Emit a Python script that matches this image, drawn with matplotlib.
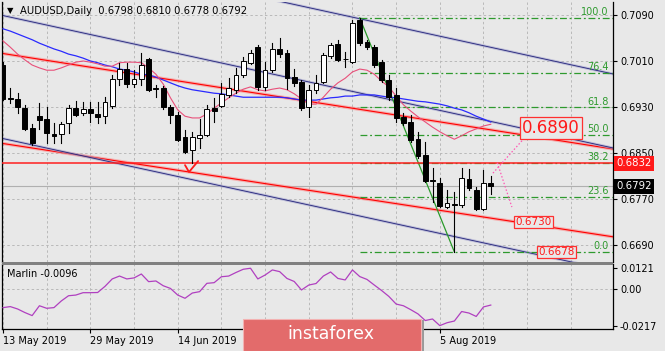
import matplotlib
matplotlib.use("Agg")
import matplotlib.pyplot as plt
import matplotlib.transforms as mtransforms
from matplotlib.patches import Rectangle
from matplotlib.ticker import FixedLocator, FixedFormatter

# ─────────────────────────────────────────────
#  Data
# ─────────────────────────────────────────────
TITLE = "AUDUSD,Daily  0.6798 0.6810 0.6778 0.6792"

# the 2 Jul / 18 Jul labels sit under the watermark in the original, so only these show
date_bars   = [0, 12, 24, 60]
date_labels = ["13 May 2019", "29 May 2019", "14 Jun 2019", "5 Aug 2019"]

opens = [0.7003, 0.6946, 0.6944, 0.6928, 0.6893, 0.6914, 0.6909, 0.6883, 0.6883, 0.6902,
         0.6928, 0.6920, 0.6927, 0.6918, 0.6914, 0.6932, 0.6979, 0.6996, 0.6970, 0.6979,
         0.7013, 0.6963, 0.6963, 0.6930, 0.6916, 0.6878, 0.6855, 0.6876, 0.6881, 0.6928,
         0.6932, 0.6951, 0.6960, 0.6986, 0.7007, 0.7034, 0.6965, 0.6994, 0.7031, 0.7024,
         0.6982, 0.6973, 0.6930, 0.6960, 0.6973, 0.7019, 0.7040, 0.7014, 0.7008, 0.7081,
         0.7043, 0.7034, 0.7008, 0.6977, 0.6951, 0.6913, 0.6904, 0.6874, 0.6847, 0.6803,
         0.6798, 0.6756, 0.6762, 0.6760, 0.6805, 0.6786, 0.6753, 0.6798]
highs = [0.7008, 0.6963, 0.6954, 0.6933, 0.6900, 0.6937, 0.6930, 0.6902, 0.6904, 0.6933,
         0.6940, 0.6939, 0.6939, 0.6939, 0.6947, 0.6986, 0.7007, 0.7007, 0.6994, 0.7024,
         0.7015, 0.6968, 0.6967, 0.6933, 0.6921, 0.6890, 0.6887, 0.6909, 0.6933, 0.6946,
         0.6972, 0.6980, 0.6998, 0.7017, 0.7029, 0.7038, 0.7008, 0.7041, 0.7050, 0.7029,
         0.6996, 0.6977, 0.6968, 0.6986, 0.7024, 0.7041, 0.7047, 0.7026, 0.7081, 0.7085,
         0.7047, 0.7038, 0.7012, 0.6986, 0.6963, 0.6920, 0.6916, 0.6887, 0.6869, 0.6824,
         0.6807, 0.6786, 0.6782, 0.6824, 0.6822, 0.6791, 0.6820, 0.6810]
lows = [0.6942, 0.6937, 0.6920, 0.6890, 0.6864, 0.6892, 0.6867, 0.6867, 0.6867, 0.6885,
        0.6914, 0.6916, 0.6904, 0.6902, 0.6902, 0.6928, 0.6968, 0.6965, 0.6965, 0.6968,
        0.6958, 0.6947, 0.6927, 0.6902, 0.6871, 0.6850, 0.6832, 0.6859, 0.6880, 0.6904,
        0.6930, 0.6947, 0.6954, 0.6982, 0.7005, 0.6960, 0.6960, 0.6991, 0.7017, 0.6961,
        0.6967, 0.6925, 0.6913, 0.6954, 0.6972, 0.7015, 0.7010, 0.7000, 0.7007, 0.7038,
        0.7031, 0.7000, 0.6973, 0.6942, 0.6904, 0.6899, 0.6869, 0.6841, 0.6800, 0.6765,
        0.6756, 0.6754, 0.6678, 0.6756, 0.6786, 0.6751, 0.6751, 0.6778]
closes = [0.6944, 0.6944, 0.6930, 0.6892, 0.6867, 0.6907, 0.6885, 0.6880, 0.6900, 0.6928,
          0.6916, 0.6927, 0.6920, 0.6913, 0.6939, 0.6979, 0.6996, 0.6970, 0.6979, 0.7003,
          0.6960, 0.6961, 0.6930, 0.6916, 0.6873, 0.6852, 0.6878, 0.6881, 0.6927, 0.6923,
          0.6953, 0.6963, 0.6986, 0.7010, 0.7024, 0.6965, 0.6994, 0.7031, 0.7022, 0.6980,
          0.6972, 0.6928, 0.6960, 0.6972, 0.7020, 0.7038, 0.7012, 0.7013, 0.7076, 0.7041,
          0.7034, 0.7003, 0.6977, 0.6947, 0.6911, 0.6902, 0.6873, 0.6845, 0.6801, 0.6801,
          0.6758, 0.6763, 0.6760, 0.6807, 0.6789, 0.6753, 0.6798, 0.6792]

ma_fast = [0.7045, 0.7034, 0.7022, 0.7012, 0.7003, 0.6998, 0.6994, 0.6994, 0.6998, 0.7003,
           0.7008, 0.7010, 0.7008, 0.7005, 0.7001, 0.7001, 0.7007, 0.7008, 0.7008, 0.7007,
           0.6998, 0.6987, 0.6970, 0.6946, 0.6925, 0.6914, 0.6911, 0.6911, 0.6918, 0.6928,
           0.6937, 0.6946, 0.6954, 0.6961, 0.6965, 0.6960, 0.6958, 0.6961, 0.6963, 0.6960,
           0.6953, 0.6944, 0.6935, 0.6935, 0.6947, 0.6961, 0.6972, 0.6980, 0.6991, 0.6996,
           0.6994, 0.6987, 0.6975, 0.6965, 0.6949, 0.6934, 0.6923, 0.6913, 0.6904, 0.6895,
           0.6887, 0.6880, 0.6874, 0.6880, 0.6887, 0.6892, 0.6897, 0.6900]
ma_slow = [0.7066, 0.7062, 0.7057, 0.7052, 0.7047, 0.7041, 0.7036, 0.7031, 0.7027, 0.7022,
           0.7019, 0.7015, 0.7010, 0.7007, 0.7003, 0.7000, 0.6996, 0.6994, 0.6991, 0.6987,
           0.6986, 0.6982, 0.6977, 0.6972, 0.6967, 0.6963, 0.6960, 0.6958, 0.6956, 0.6954,
           0.6953, 0.6951, 0.6949, 0.6947, 0.6947, 0.6947, 0.6947, 0.6947, 0.6947, 0.6946,
           0.6944, 0.6942, 0.6942, 0.6942, 0.6944, 0.6946, 0.6947, 0.6949, 0.6949, 0.6951,
           0.6951, 0.6951, 0.6949, 0.6947, 0.6946, 0.6944, 0.6942, 0.6940, 0.6939, 0.6937,
           0.6935, 0.6932, 0.6928, 0.6925, 0.6920, 0.6914, 0.6909, 0.6904]

marlin = [-0.0111, -0.0105, -0.0119, -0.0140, -0.0158, -0.0100, -0.0115, -0.0111, -0.0072, -0.0041,
          -0.0037, -0.0023, -0.0023, -0.0022, 0.0014, 0.0058, 0.0075, 0.0058, 0.0064, 0.0087,
          0.0042, 0.0046, 0.0018, 0.0002, -0.0037, -0.0056, -0.0025, -0.0017, 0.0032, 0.0036,
          0.0071, 0.0075, 0.0096, 0.0115, 0.0121, 0.0058, 0.0081, 0.0111, 0.0101, 0.0061,
          0.0043, -0.0007, 0.0022, 0.0031, 0.0075, 0.0099, 0.0061, 0.0052, 0.0111, 0.0072,
          0.0055, 0.0022, -0.0010, -0.0045, -0.0090, -0.0100, -0.0123, -0.0148, -0.0187, -0.0178,
          -0.0217, -0.0200, -0.0190, -0.0134, -0.0143, -0.0163, -0.0107, -0.0096]

# trend lines: (bar, price) -> (bar, price)
red_channel  = [((0, 0.70230), (84, 0.68566)), ((0, 0.68665), (84, 0.67039))]
navy_channel = [((0, 0.72187), (84, 0.69869)), ((0, 0.70890), (84, 0.68582)),
                ((0, 0.68751), (84, 0.66443))]
support_level = 0.6832
last_price    = 0.6792

fib_start, fib_high, fib_low, fib_end = 49, 0.7085, 0.6678, 62
fib_levels = [0.0, 23.6, 38.2, 50.0, 61.8, 76.4, 100.0]

forecast_up   = [(67.3, 0.6815), (71.4, 0.6873)]
forecast_down = [(67.9, 0.6833), (69.9, 0.6756)]
check_mark    = [(25.0, 0.6829), (25.55, 0.6817), (26.8, 0.6836)]

# boxed target labels: (bar, price, text, fontsize)
target_boxes = [(75.3, 0.6893, "0.6890", 12), (72.9, 0.6730, "0.6730", 7.5),
                (76.0, 0.6678, "0.6678", 7.5)]

price_ticks  = [0.6690, 0.6770, 0.6850, 0.6930, 0.7010, 0.7090]
marlin_ticks = [-0.0217, 0.0, 0.0121]
marlin_tick_labels = ["-0.0217", "0.00", "0.0121"]

# ─────────────────────────────────────────────
#  Style
# ─────────────────────────────────────────────
BG     = "#e8e8e8"
GRID   = "#b9b9b9"
FIBC   = "#2e9a2e"
W, H   = 665, 351
plt.rcParams["font.family"] = "DejaVu Sans"

fig = plt.figure(figsize=(W / 100, H / 100), dpi=100, facecolor=BG)
ax  = fig.add_axes([2 / W, 1 - 262 / H, 611 / W, 260 / H], facecolor=BG)
osc = fig.add_axes([2 / W, 1 - 329 / H, 611 / W, 65 / H], facecolor=BG, sharex=ax)

XMIN, XMAX = -0.14, 83.79
ax.set_xlim(XMIN, XMAX)
ax.set_ylim(0.66605, 0.71126)
osc.set_ylim(-0.0237, 0.0146)

grid_bars = list(range(0, 85, 6))
for a in (ax, osc):
    for gx in grid_bars:
        a.axvline(gx, color=GRID, lw=0.7, ls=(0, (2.5, 2.5)), zorder=0)
for gy in price_ticks:
    ax.axhline(gy, color=GRID, lw=0.7, ls=(0, (2.5, 2.5)), zorder=0)
osc.axhline(0.0, color=GRID, lw=0.7, ls=(0, (2.5, 2.5)), zorder=0)

# ─────────────────────────────────────────────
#  Main window
# ─────────────────────────────────────────────
bars = list(range(len(closes)))

# channels (thin line over a soft, wider copy)
for (x0, y0), (x1, y1) in red_channel:
    ax.plot([x0, x1], [y0, y1], color="#ff8080", lw=2.4, alpha=0.55, zorder=2)
    ax.plot([x0, x1], [y0, y1], color="#ff0000", lw=0.8, zorder=2)
for (x0, y0), (x1, y1) in navy_channel:
    ax.plot([x0, x1], [y0, y1], color="#a0a0cc", lw=2.0, alpha=0.6, zorder=2)
    ax.plot([x0, x1], [y0, y1], color="#23237a", lw=0.6, zorder=2)

# fibonacci grid
rng = fib_high - fib_low
for lvl in fib_levels:
    price = fib_low + rng * lvl / 100
    ax.plot([fib_start, XMAX], [price, price], color=FIBC, lw=0.9,
            ls=(0, (5.5, 2.2, 1.5, 2.2)), zorder=2)
    ax.text(83.2, price + 0.00012, f"{lvl:.1f}", color=FIBC, fontsize=7,
            ha="right", va="bottom", zorder=6)
ax.plot([fib_start, fib_end], [fib_high, fib_low], color="#2a9a2a", lw=0.9, zorder=3)

# horizontal levels
ax.axhline(support_level, color="#ff2020", lw=1.1, zorder=3)
ax.axhline(last_price, color="#b0b0b0", lw=0.8, zorder=1)

# moving averages
ax.plot(bars, ma_slow, color="#2a2aff", lw=0.9, zorder=3)
ax.plot(bars, ma_fast, color="#e8507a", lw=0.8, zorder=3)

# candles
for i in bars:
    ax.plot([i, i], [lows[i], highs[i]], color="black", lw=0.8, zorder=4)
body_bottom = [min(o, c) for o, c in zip(opens, closes)]
body_height = [max(abs(c - o), 0.00012) for o, c in zip(opens, closes)]
body_color  = ["white" if c > o else "black" for o, c in zip(opens, closes)]
ax.bar(bars, body_height, bottom=body_bottom, width=0.66, color=body_color,
       edgecolor="black", linewidth=0.7, zorder=5)

# forecast paths and markers
for path in (forecast_up, forecast_down):
    ax.plot([p[0] for p in path], [p[1] for p in path], color="#ff5ab4",
            lw=0.9, ls=(0, (1.2, 1.6)), zorder=6)
ax.plot([p[0] for p in check_mark], [p[1] for p in check_mark],
        color="#ff1a1a", lw=1.3, zorder=6, solid_capstyle="round")

for bx, by, txt, fs in target_boxes:
    ax.text(bx, by, txt, color="#ff1a1a", fontsize=fs, ha="center", va="center",
            zorder=7, bbox=dict(boxstyle="square,pad=0.12", fc=BG, ec="#ff3030", lw=0.9))

# price axis on the right
ax.yaxis.tick_right()
ax.set_yticks(price_ticks)
ax.set_yticklabels([f"{p:.4f}" for p in price_ticks])
ax.tick_params(axis="y", labelsize=7, length=3, pad=2, colors="black")
ax.tick_params(axis="x", bottom=False, labelbottom=False)
for s in ("top", "bottom"):
    ax.spines[s].set_visible(False)
for s in ("left", "right"):
    ax.spines[s].set_color("black")
    ax.spines[s].set_linewidth(0.9)

right_edge = mtransforms.blended_transform_factory(ax.transAxes, ax.transData)
ax.text(1.006, support_level, "0.6832", transform=right_edge, color="white",
        fontsize=7.3, va="center", ha="left", zorder=8,
        bbox=dict(boxstyle="square,pad=0.22", fc="#ff1a1a", ec="none"))
ax.text(1.006, last_price, "0.6792", transform=right_edge, color="white",
        fontsize=7.3, va="center", ha="left", zorder=8,
        bbox=dict(boxstyle="square,pad=0.22", fc="black", ec="none"))

fig.text(7 / W, 1 - 11 / H, "▼", fontsize=6, va="center", ha="left")
fig.text(20 / W, 1 - 11 / H, TITLE, fontsize=7.2, va="center", ha="left")

# ─────────────────────────────────────────────
#  Marlin oscillator window
# ─────────────────────────────────────────────
osc.plot(bars, marlin, color="#b040c0", lw=0.9, zorder=3)
osc.text(0.008, 0.84, "Marlin -0.0096", transform=osc.transAxes, fontsize=7,
         va="center", ha="left")

osc.yaxis.tick_right()
osc.yaxis.set_major_locator(FixedLocator(marlin_ticks))
osc.yaxis.set_major_formatter(FixedFormatter(marlin_tick_labels))
osc.tick_params(axis="y", labelsize=7, length=3, pad=2)
osc.set_xticks(date_bars)
osc.set_xticklabels(date_labels)
osc.tick_params(axis="x", labelsize=7, length=3, pad=2)
for lbl in osc.get_xticklabels():
    lbl.set_ha("left")
osc.spines["top"].set_visible(False)
for s in ("left", "right", "bottom"):
    osc.spines[s].set_color("black")
    osc.spines[s].set_linewidth(0.9)

# separator between windows
fig.patches.append(Rectangle((2 / W, 1 - 264.5 / H), 611 / W, 3 / H,
                             transform=fig.transFigure, fc="#808080", ec="none"))

# ─────────────────────────────────────────────
#  Watermark
# ─────────────────────────────────────────────
fig.patches.append(Rectangle((245 / W, 0), 179 / W, 31 / H, transform=fig.transFigure,
                             fc="#9a9a9a", ec="none", zorder=9))
fig.patches.append(Rectangle((243 / W, 0), 178 / W, 32 / H, transform=fig.transFigure,
                             fc="#e36b6b", ec="#f3b2b2", lw=0.8, zorder=10))
fig.text(331 / W, 1 - 334 / H, "instaforex", color="white", fontsize=12.5,
         ha="center", va="center", zorder=11)

fig.savefig("out.png", dpi=100, facecolor=BG)
